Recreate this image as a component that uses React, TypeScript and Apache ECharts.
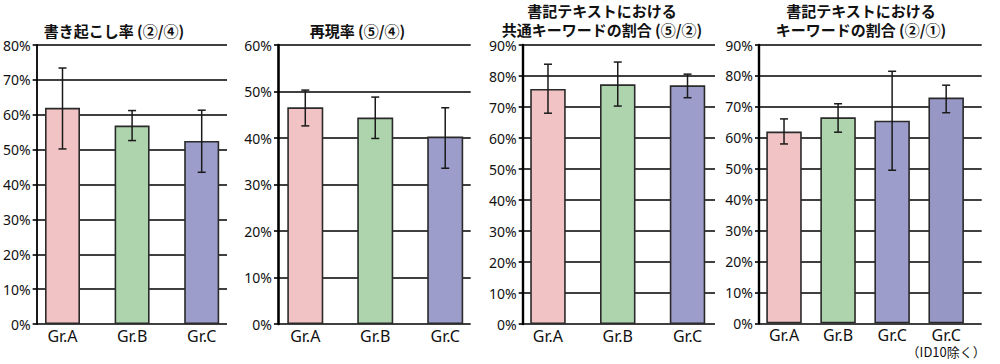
import React, { useEffect, useRef } from "react";
import * as echarts from "echarts";

// ---- data ----
const groups3 = ["Gr.A", "Gr.B", "Gr.C"];
const groups4 = ["Gr.A", "Gr.B", "Gr.C", "Gr.C\n（ID10除く）"];

const titleLines = [
  ["書き起こし率 (②/④)"],
  ["再現率 (⑤/④)"],
  ["書記テキストにおける", "共通キーワードの割合 (⑤/②)"],
  ["書記テキストにおける", "キーワードの割合 (②/①)"],
];

const yMaxes = [80, 60, 90, 90];

const mean1 = [62.0, 56.9, 52.5];
const low1 = [50.2, 52.6, 43.5];
const high1 = [73.4, 61.2, 61.3];

const mean2 = [46.6, 44.4, 40.3];
const low2 = [42.6, 39.9, 33.5];
const high2 = [50.3, 48.8, 46.5];

const mean3 = [75.8, 77.3, 77.0];
const low3 = [68.0, 70.3, 73.0];
const high3 = [83.8, 84.5, 80.6];

const mean4 = [62.0, 66.6, 65.5, 73.0];
const low4 = [58.0, 61.8, 49.5, 68.1];
const high4 = [66.1, 71.0, 81.5, 77.0];

const colors3 = ["#F2C3C4", "#AED4AE", "#9C9DCB"];
const colors4 = ["#F2C3C4", "#AED4AE", "#9C9DCB", "#9797C6"];

// ---- layout (pixels) ----
const panels = [
  { cats: groups3, mean: mean1, low: low1, high: high1, colors: colors3, max: yMaxes[0], title: titleLines[0],
    axis: { l: 36, r: 227, t: 45, b: 324 }, bars: { l: 27.7, r: 236.5 }, barWidth: 35, axisW: 1.8, tx: 114, ty: [30.5] },
  { cats: groups3, mean: mean2, low: low2, high: high2, colors: colors3, max: yMaxes[1], title: titleLines[1],
    axis: { l: 278, r: 470.7, t: 45, b: 324 }, bars: { l: 270.3, r: 480.2 }, barWidth: 36, axisW: 2.6, tx: 357.5, ty: [30.5] },
  { cats: groups3, mean: mean3, low: low3, high: high3, colors: colors3, max: yMaxes[2], title: titleLines[2],
    axis: { l: 522.7, r: 715, t: 45, b: 324 }, bars: { l: 513.1, r: 722.4 }, barWidth: 35.5, axisW: 2.4, tx: 602, ty: [10, 29.5] },
  { cats: groups4, mean: mean4, low: low4, high: high4, colors: colors4, max: yMaxes[3], title: titleLines[3],
    axis: { l: 759, r: 981.7, t: 45, b: 323.3 }, bars: { l: 757, r: 973.2 }, barWidth: 35.5, axisW: 2.4, tx: 861, ty: [10, 29.5] },
];

const LABEL_FONT = "'Noto Sans', sans-serif";
const TITLE_FONT = "'Noto Sans CJK JP', sans-serif";

function formatCat(v: string) {
  const parts = v.split("\n");
  if (parts.length < 2) return v;
  return parts[0] + "\n{s|" + parts[1] + "}";
}

function buildOption() {
  const grid: any[] = [];
  const xAxis: any[] = [];
  const yAxis: any[] = [];
  const series: any[] = [];
  const graphic: any[] = [];

  panels.forEach((p, i) => {
    const ai = 2 * i;
    const bi = 2 * i + 1;
    grid.push({ left: p.axis.l, top: p.axis.t, width: p.axis.r - p.axis.l, height: p.axis.b - p.axis.t });
    grid.push({ left: p.bars.l, top: p.axis.t, width: p.bars.r - p.bars.l, height: p.axis.b - p.axis.t });

    xAxis.push({ gridIndex: ai, type: "value", min: 0, max: 1, show: false });
    yAxis.push({
      gridIndex: ai,
      type: "value",
      min: 0,
      max: p.max,
      interval: 10,
      axisLine: { show: true, lineStyle: { color: "#000", width: p.axisW } },
      axisTick: { show: true, length: 4, lineStyle: { color: "#000", width: 1.6 } },
      axisLabel: { formatter: "{value}%", fontSize: 14, color: "#111", margin: 6, fontFamily: LABEL_FONT },
      splitLine: { show: true, lineStyle: { color: "#000", width: 1.6 } },
    });

    xAxis.push({
      gridIndex: bi,
      type: "category",
      data: p.cats,
      axisLine: { show: false },
      axisTick: { show: false },
      axisLabel: {
        interval: 0,
        fontSize: 16,
        color: "#111",
        margin: 3,
        lineHeight: 17,
        fontFamily: LABEL_FONT,
        formatter: formatCat,
        rich: { s: { fontSize: 13, lineHeight: 16, color: "#111", fontFamily: "'Noto Sans CJK JP', sans-serif" } },
      },
      splitLine: { show: false },
    });
    yAxis.push({ gridIndex: bi, type: "value", min: 0, max: p.max, show: false, splitLine: { show: false } });

    series.push({
      type: "bar",
      xAxisIndex: bi,
      yAxisIndex: bi,
      barWidth: p.barWidth,
      z: 3,
      data: p.mean.map((v, j) => ({
        value: v,
        itemStyle: { color: p.colors[j], borderColor: "#2a2a2a", borderWidth: 1.6 },
      })),
    });

    series.push({
      type: "custom",
      xAxisIndex: bi,
      yAxisIndex: bi,
      z: 6,
      encode: { x: 0, y: [1, 2] },
      data: p.cats.map((_, j) => [j, p.low[j], p.high[j]]),
      renderItem: (params: any, api: any) => {
        const x = api.value(0);
        const lo = api.coord([x, api.value(1)]);
        const hi = api.coord([x, api.value(2)]);
        const cap = 4;
        const style = { stroke: "#1a1a1a", lineWidth: 1.5 };
        return {
          type: "group",
          children: [
            { type: "line", shape: { x1: lo[0], y1: lo[1], x2: hi[0], y2: hi[1] }, style },
            { type: "line", shape: { x1: hi[0] - cap, y1: hi[1], x2: hi[0] + cap, y2: hi[1] }, style },
            { type: "line", shape: { x1: lo[0] - cap, y1: lo[1], x2: lo[0] + cap, y2: lo[1] }, style },
          ],
        };
      },
    });

    p.title.forEach((line, k) => {
      graphic.push({
        type: "text",
        x: p.tx,
        y: p.ty[k],
        style: {
          text: line,
          fill: "#111",
          font: `bold 15px ${TITLE_FONT}`,
          textAlign: "center",
          textVerticalAlign: "middle",
        },
      });
    });
  });

  return {
    animation: false,
    backgroundColor: "#fff",
    grid,
    xAxis,
    yAxis,
    series,
    graphic,
  };
}

export default function App() {
  const ref = useRef<HTMLDivElement>(null);
  useEffect(() => {
    if (!ref.current) return;
    const chart = echarts.init(ref.current, null, { renderer: "svg" });
    chart.setOption(buildOption() as any);
    return () => chart.dispose();
  }, []);
  return (
    <div
      ref={ref}
      style={{ position: "absolute", left: 0, top: 0, width: 1000, height: 364, background: "#fff" }}
    />
  );
}
